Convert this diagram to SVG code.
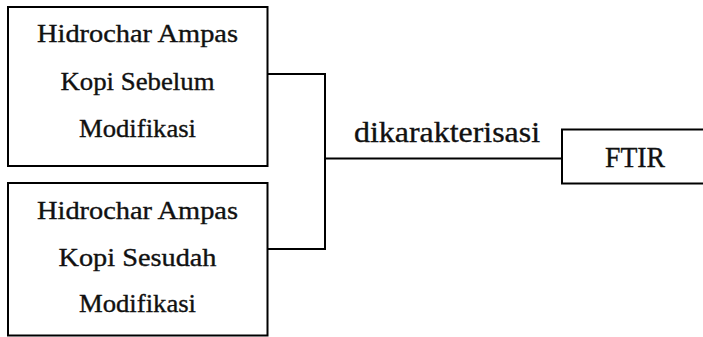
<svg xmlns="http://www.w3.org/2000/svg" width="703" height="337" viewBox="0 0 703 337">
  <style>
    .box { fill: #ffffff; stroke: #000000; stroke-width: 2; }
    .wire { fill: none; stroke: #000000; stroke-width: 2; }
    text { font-family: 'Liberation Serif', 'Times New Roman', serif; fill: #111111; stroke: #111111; stroke-width: 0.35; text-anchor: middle; }
    .small { font-size: 25px; }
    .big { font-size: 29px; }
  </style>
  <rect width="703" height="337" fill="#ffffff"/>

  <g id="connectors">
    <path class="wire" d="M267,74 H325 V249 H267"/>
    <path class="wire" d="M325,158.5 H562"/>
  </g>

  <g id="node-sebelum">
    <rect class="box" x="8" y="7" width="259.5" height="159"/>
    <text class="small" x="137.5" y="42" textLength="201" lengthAdjust="spacingAndGlyphs">Hidrochar  Ampas</text>
    <text class="small" x="137.5" y="90" textLength="154" lengthAdjust="spacingAndGlyphs">Kopi Sebelum</text>
    <text class="small" x="137.5" y="137" textLength="117" lengthAdjust="spacingAndGlyphs">Modifikasi</text>
  </g>

  <g id="node-sesudah">
    <rect class="box" x="8" y="183" width="259.5" height="152.5"/>
    <text class="small" x="137.5" y="219" textLength="201" lengthAdjust="spacingAndGlyphs">Hidrochar  Ampas</text>
    <text class="small" x="137.5" y="265.5" textLength="158" lengthAdjust="spacingAndGlyphs">Kopi Sesudah</text>
    <text class="small" x="137.5" y="312" textLength="117" lengthAdjust="spacingAndGlyphs">Modifikasi</text>
  </g>

  <g id="label-dikarakterisasi">
    <text class="big" x="447" y="142" textLength="186" lengthAdjust="spacingAndGlyphs">dikarakterisasi</text>
  </g>

  <g id="node-ftir">
    <rect class="box" x="562" y="129.5" width="160" height="54"/>
    <text class="big" x="635" y="167" textLength="60" lengthAdjust="spacingAndGlyphs">FTIR</text>
  </g>
</svg>
